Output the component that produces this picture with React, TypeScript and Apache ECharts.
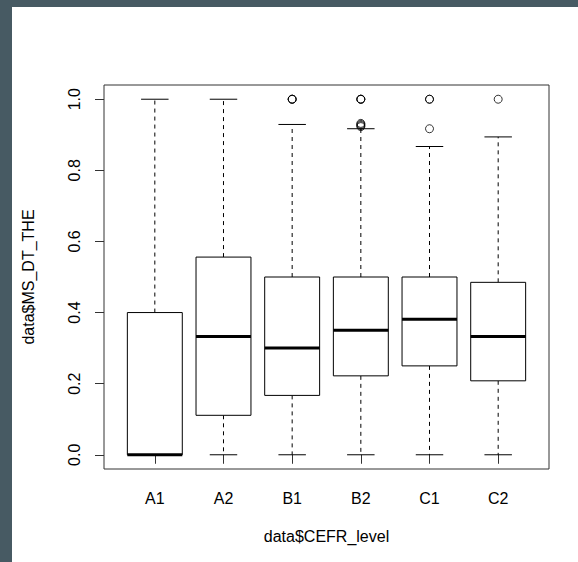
import React, { useEffect, useRef } from "react";
import * as echarts from "echarts";

const categories = ["A1", "A2", "B1", "B2", "C1", "C2"];
const whiskerLow = [0, 0, 0, 0, 0, 0];
const quartile1 = [0, 0.111, 0.167, 0.222, 0.25, 0.208];
const medians = [0, 0.333, 0.3, 0.35, 0.381, 0.333];
const quartile3 = [0.4, 0.556, 0.5, 0.5, 0.5, 0.485];
const whiskerHigh = [1, 1, 0.929, 0.917, 0.867, 0.894];
const outlierGroups = ["B1", "B1", "B1", "B2", "B2", "B2", "B2", "B2", "B2", "B2", "C1", "C1", "C1", "C2"];
const outlierValues = [1, 1, 1, 1, 1, 1, 0.923, 0.926, 0.929, 0.932, 1, 1, 0.917, 1];
const yTicks = [0, 0.2, 0.4, 0.6, 0.8, 1.0];

const FONT = "Liberation Sans, Arial, Helvetica, sans-serif";

export default function App() {
  const ref = useRef<HTMLDivElement>(null);
  useEffect(() => {
    if (!ref.current) return;
    const chart = echarts.init(ref.current, undefined, { renderer: "svg" });
    const xPos = categories.map((_, i) => i + 1);
    const boxData = categories.map((_, i) => [
      i + 1,
      whiskerLow[i],
      quartile1[i],
      medians[i],
      quartile3[i],
      whiskerHigh[i],
    ]);
    const outlierData = outlierGroups.map((g, i) => [categories.indexOf(g) + 1, outlierValues[i]]);
    const lineStyle = { stroke: "#000", lineWidth: 1 };
    chart.setOption({
      animation: false,
      backgroundColor: "#ffffff",
      grid: {
        left: 88,
        top: 78,
        width: 449,
        height: 384,
        show: true,
        borderColor: "#333",
        borderWidth: 1,
        backgroundColor: "transparent",
      },
      xAxis: {
        type: "value",
        min: 0.26,
        max: 6.74,
        name: "data$CEFR_level",
        nameLocation: "middle",
        nameGap: 59,
        nameTextStyle: { fontFamily: FONT, fontSize: 16, color: "#000" },
        axisLine: { show: false },
        splitLine: { show: false },
        axisTick: {
          show: true,
          length: 9,
          customValues: xPos,
          lineStyle: { color: "#333", width: 1 },
        },
        axisLabel: {
          customValues: xPos,
          margin: 21,
          fontFamily: FONT,
          fontSize: 16,
          color: "#000",
          formatter: (v: number) => categories[Math.round(v) - 1] ?? "",
        },
      },
      yAxis: {
        type: "value",
        min: -0.04,
        max: 1.04,
        name: "data$MS_DT_THE",
        nameLocation: "middle",
        nameGap: 68,
        nameTextStyle: { fontFamily: FONT, fontSize: 16, color: "#000" },
        axisLine: { show: false },
        splitLine: { show: false },
        axisTick: {
          show: true,
          length: 9,
          customValues: yTicks,
          lineStyle: { color: "#333", width: 1 },
        },
        axisLabel: {
          customValues: yTicks,
          rotate: 90,
          margin: 22,
          fontFamily: FONT,
          fontSize: 16,
          color: "#000",
          formatter: (v: number) => v.toFixed(1),
        },
      },
      series: [
        {
          type: "custom",
          data: boxData,
          encode: { x: 0, y: [1, 2, 3, 4, 5] },
          renderItem: (params: any, api: any) => {
            const x = api.value(0);
            const lo = api.coord([x, api.value(1)]);
            const q1 = api.coord([x, api.value(2)]);
            const md = api.coord([x, api.value(3)]);
            const q3 = api.coord([x, api.value(4)]);
            const hi = api.coord([x, api.value(5)]);
            const halfBox = api.size([0.4, 0])[0];
            const halfCap = api.size([0.2, 0])[0];
            const cx = lo[0];
            return {
              type: "group",
              children: [
                {
                  type: "line",
                  shape: { x1: cx, y1: q3[1], x2: cx, y2: hi[1] },
                  style: { ...lineStyle, lineDash: [4, 4] },
                },
                {
                  type: "line",
                  shape: { x1: cx, y1: q1[1], x2: cx, y2: lo[1] },
                  style: { ...lineStyle, lineDash: [4, 4] },
                },
                {
                  type: "line",
                  shape: { x1: cx - halfCap, y1: hi[1], x2: cx + halfCap, y2: hi[1] },
                  style: lineStyle,
                },
                {
                  type: "line",
                  shape: { x1: cx - halfCap, y1: lo[1], x2: cx + halfCap, y2: lo[1] },
                  style: lineStyle,
                },
                {
                  type: "rect",
                  shape: { x: cx - halfBox, y: q3[1], width: halfBox * 2, height: q1[1] - q3[1] },
                  style: { fill: "#fff", stroke: "#000", lineWidth: 1 },
                },
                {
                  type: "line",
                  shape: { x1: cx - halfBox, y1: md[1], x2: cx + halfBox, y2: md[1] },
                  style: { stroke: "#000", lineWidth: 3 },
                },
              ],
            };
          },
        },
        {
          type: "scatter",
          data: outlierData,
          symbol: "circle",
          symbolSize: 8,
          itemStyle: { color: "transparent", borderColor: "#000", borderWidth: 1 },
        },
      ],
    });
    return () => chart.dispose();
  }, []);
  return (
    <div style={{ position: "fixed", left: 0, top: 0, width: 578, height: 562, background: "#475a63" }}>
      <div ref={ref} style={{ position: "absolute", left: 12, top: 7, width: 566, height: 555 }} />
    </div>
  );
}
